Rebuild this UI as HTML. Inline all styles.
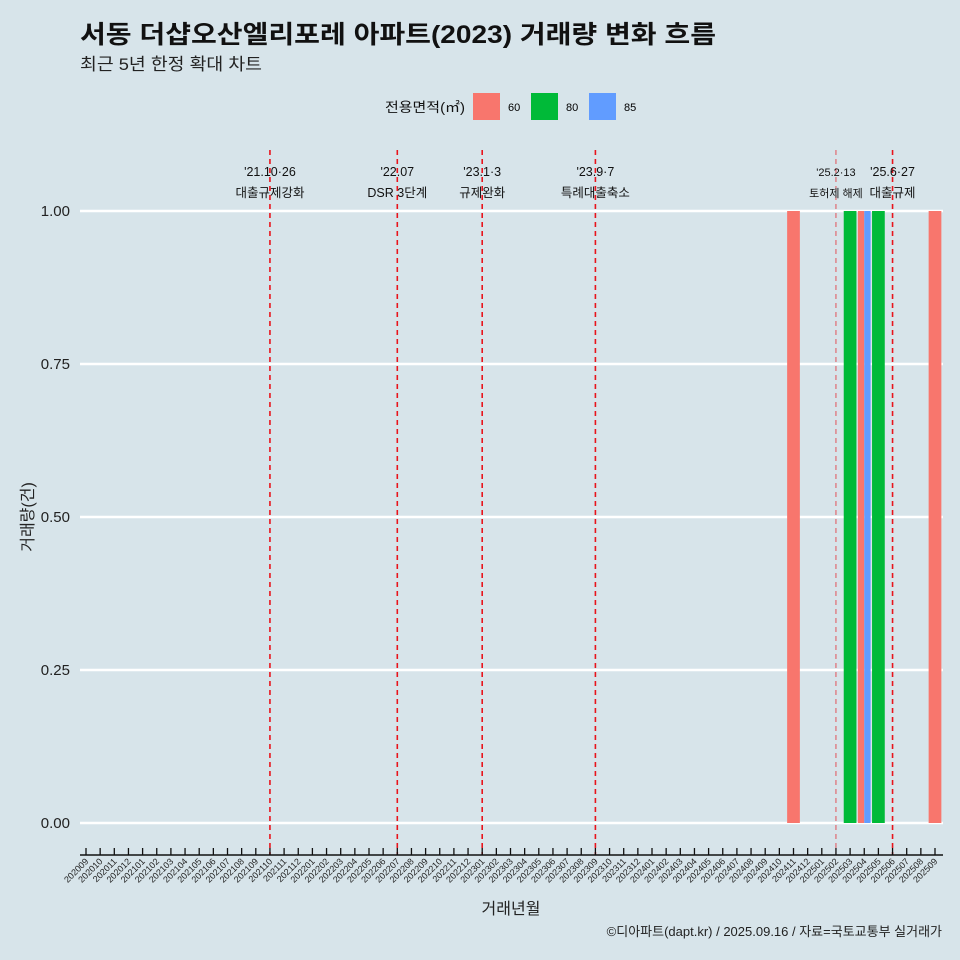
<!DOCTYPE html>
<html><head><meta charset="utf-8">
<style>
body{margin:0;background:#d7e4ea;}
svg{display:block;font-family:"Liberation Sans","Noto Sans CJK KR",sans-serif;}
</style></head>
<body>
<svg id="chart" width="960" height="960" viewBox="0 0 960 960">
<rect width="960" height="960" fill="#d7e4ea"/>
<text x="80" y="43" font-size="25" font-weight="bold" fill="#111" textLength="636" lengthAdjust="spacingAndGlyphs">서동 더샵오산엘리포레 아파트(2023) 거래량 변화 흐름</text>
<text x="80" y="70" font-size="17" fill="#222" textLength="182" lengthAdjust="spacingAndGlyphs">최근 5년 한정 확대 차트</text>
<g>
<text x="385" y="112" font-size="13.5" fill="#111" textLength="80" lengthAdjust="spacingAndGlyphs">전용면적(㎡)</text>
<rect x="473" y="93" width="27" height="27" fill="#f8766d"/>
<text x="508" y="111" font-size="11">60</text>
<rect x="531" y="93" width="27" height="27" fill="#00ba38"/>
<text x="566" y="111" font-size="11">80</text>
<rect x="589" y="93" width="27" height="27" fill="#619cff"/>
<text x="624" y="111" font-size="11">85</text>
</g>
<g id="grid"></g><g id="bars"></g><g id="events"></g><g id="xaxis"></g><g id="yaxis"></g>
<text x="511" y="914" font-size="16" text-anchor="middle" fill="#222">거래년월</text>
<text transform="translate(33,517) rotate(-90)" font-size="16" text-anchor="middle" fill="#222">거래량(건)</text>
<text x="942" y="936" font-size="13" text-anchor="end" fill="#222">©디아파트(dapt.kr) / 2025.09.16 / 자료=국토교통부 실거래가</text>
</svg>
<script>
const months=[];
for(let y=2020;y<=2025;y++)for(let m=1;m<=12;m++){const k=y*100+m;if(k>=202009&&k<=202509)months.push(String(k));}
const barMonths=["202411","202503","202504","202504","202505","202509"];
const barAreas=["60","80","60","85","80","60"];
const barValues=[1,1,1,1,1,1];
const yTicks=[0,0.25,0.5,0.75,1.0];
const yTickLabels=["0.00","0.25","0.50","0.75","1.00"];
const eventMonths=["202110","202207","202301","202309","202502","202506"];
const eventDates=["'21.10·26","'22.07","'23.1·3","'23.9·7","'25.2·13","'25.6·27"];
const eventLabels=["대출규제강화","DSR 3단계","규제완화","특례대출축소","토허제 해제","대출규제"];
const colors={"60":"#f8766d","80":"#00ba38","85":"#619cff"};
const NS="http://www.w3.org/2000/svg";
const x0=86,x1=935,y0=823,y1=211;
const xs=m=>x0+months.indexOf(m)*(x1-x0)/(months.length-1);
const ys=v=>y0-v*(y0-y1);
const step=(x1-x0)/(months.length-1);
function mk(t,a,p){const e=document.createElementNS(NS,t);for(const k in a)e.setAttribute(k,a[k]);p.appendChild(e);return e;}
const grid=document.getElementById('grid');
yTicks.forEach((v,i)=>{
const l=mk('line',{x1:80,x2:943,y1:ys(v),y2:ys(v),stroke:'#fff','stroke-width':2.5},grid);


const t=mk('text',{x:70,y:ys(v)+5,'font-size':15,'text-anchor':'end',fill:'#222'},document.getElementById('yaxis'));
t.textContent=yTickLabels[i];


});
const bars=document.getElementById('bars');
const bw=step*0.9;
barMonths.forEach((m,i)=>{
const same=barMonths.map((mm,j)=>mm===m?j:-1).filter(j=>j>=0);
const n=same.length,k=same.indexOf(i);
const w=bw/n;
const x=xs(m)-bw/2+k*w;
const r=mk('rect',{x:x,y:ys(barValues[i]),width:w,height:ys(0)-ys(barValues[i]),fill:colors[barAreas[i]]},bars);


});
const ev=document.getElementById('events');
eventMonths.forEach((m,i)=>{
const x=xs(m);const light=m==="202502";
const l=mk('line',{x1:x,x2:x,y1:150,y2:855,stroke:'#e8141c','stroke-width':light?1:1.6,'stroke-dasharray':'5,4',opacity:light?0.7:1},ev);


const fs=light?11:12.5;
const t1=mk('text',{x:x,y:176,'font-size':fs,'text-anchor':'middle',fill:'#111'},ev);
t1.textContent=eventDates[i];


const t2=mk('text',{x:x,y:197,'font-size':fs,'text-anchor':'middle',fill:'#111'},ev);
t2.textContent=eventLabels[i];


});
const xa=document.getElementById('xaxis');
const ax=mk('line',{x1:80,x2:943,y1:855,y2:855,stroke:'#111','stroke-width':1.5},xa);


months.forEach(m=>{
const x=xs(m);
const tk=mk('line',{x1:x,x2:x,y1:848,y2:855,stroke:'#111','stroke-width':1.3},xa);


const t=mk('text',{x:x+3,y:862,'font-size':9,'text-anchor':'end',fill:'#222',transform:`rotate(-45 ${x+3} 862)`},xa);
t.textContent=m;


});
</script>
</body></html>
